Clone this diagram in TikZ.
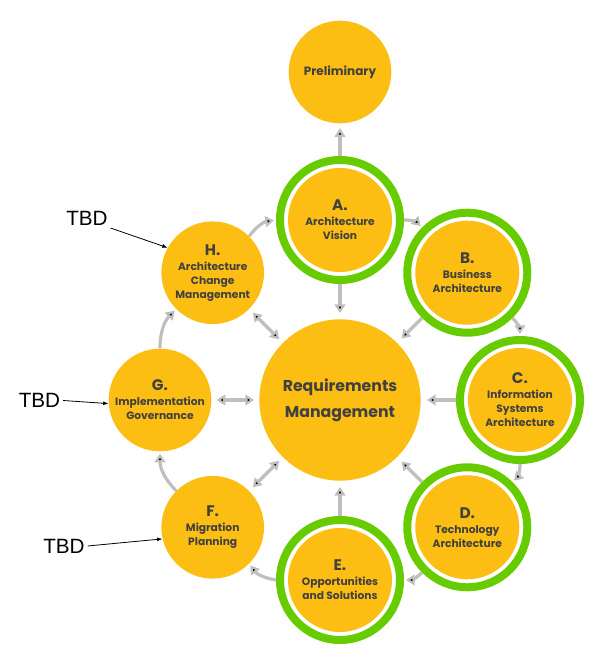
\documentclass[tikz,border=0pt]{standalone}
\usepackage{fontspec}
\setmainfont{Poppins}
\newfontfamily\tbdfont{Liberation Sans}
\usetikzlibrary{arrows.meta}
\tikzset{>={Triangle[length=6.5pt,width=8pt]}}

\definecolor{phaseorange}{HTML}{FCBE12}
\definecolor{ringgreen}{HTML}{66CC00}
\definecolor{linkgray}{HTML}{BFBFBF}
\definecolor{labelgray}{HTML}{404040}

\tikzset{
  phase/.style={circle, fill=phaseorange, minimum size=77pt, inner sep=0pt, align=center,
    text=labelgray, font=\fontsize{8}{10.5}\selectfont\bfseries},
  ringphase/.style={phase, fill=white, draw=ringgreen, line width=6pt, minimum size=90pt,
    path picture={\fill[phaseorange] (path picture bounding box.center) circle[radius=39pt];}},
  link/.style={draw=linkgray, line width=2.4pt, ->},
  tbd/.style={font=\tbdfont\fontsize{15.5}{18}\selectfont, inner sep=2pt},
  tbdarrow/.style={-{Latex[length=4pt,width=3pt]}, line width=0.6pt}
}
\newcommand{\phaselabel}[2]{{\fontsize{11.5}{12}\selectfont #1}\\[0.75pt] #2}

\begin{document}
\begin{tikzpicture}[x=0.75pt, y=0.75pt]
  \useasboundingbox (-340,-258) rectangle (260,400);

  \node[phase, minimum size=121pt, font=\fontsize{11.8}{19.5}\selectfont\bfseries] (req) at (0,0) {Requirements\\Management};
  \node[phase, font=\fontsize{9}{11}\selectfont\bfseries] (prelim) at (0,328) {Preliminary};

  \node[ringphase] (A) at (90:180) {\phaselabel{A.}{Architecture\\Vision}};
  \node[ringphase] (B) at (45:180) {\phaselabel{B.}{Business\\Architecture}};
  \node[ringphase] (C) at (0:180) {\phaselabel{C.}{Information\\Systems\\Architecture}};
  \node[ringphase] (D) at (-45:180) {\phaselabel{D.}{Technology\\Architecture}};
  \node[ringphase] (E) at (-90:180) {\phaselabel{E.}{Opportunities\\and Solutions}};
  \node[phase] (F) at (-135:180) {\phaselabel{F.}{Migration\\Planning}};
  \node[phase] (G) at (180:180) {\phaselabel{G.}{Implementation\\Governance}};
  \node[phase] (H) at (135:180) {\phaselabel{H.}{Architecture\\Change\\Management}};

  % the cycle
  \path[link, shorten >=1.5pt]
    (A) edge[bend left=22.5] (B)
    (B) edge[bend left=22.5] (C)
    (C) edge[bend left=22.5] (D)
    (D) edge[bend left=22.5] (E)
    (E) edge[bend left=22.5] (F)
    (F) edge[bend left=22.5] (G)
    (G) edge[bend left=22.5] (H)
    (H) edge[bend left=22.5] (A);

  \path[link, shorten >=3.4pt] (A) edge (prelim);
  \path[link, shorten >=4.5pt]
    (A) edge (req)
    (B) edge (req)
    (C) edge (req)
    (D) edge (req)
    (E) edge (req);
  \path[link, <->, shorten >=3.75pt, shorten <=3.75pt]
    (F) edge (req)
    (G) edge (req)
    (H) edge (req);

  \node[tbd] (tbdH) at (-253,182) {TBD};
  \node[tbd] (tbdG) at (-300.5,-0.5) {TBD};
  \node[tbd] (tbdF) at (-276,-146) {TBD};
  \draw[tbdarrow] (tbdH.south east) -- (H.151);
  \draw[tbdarrow] (tbdG.east) -- (G.184);
  \draw[tbdarrow] (tbdF.east) -- (F.193);
\end{tikzpicture}
\end{document}
